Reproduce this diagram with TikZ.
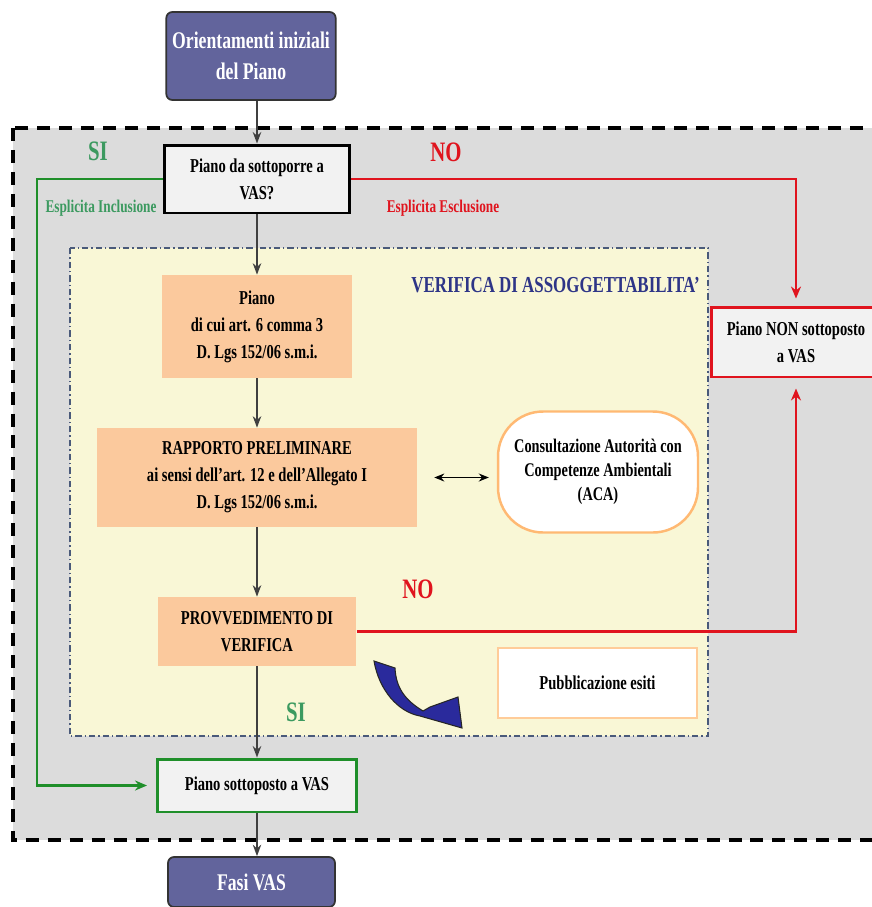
\documentclass[tikz,border=0pt]{standalone}
\usepackage{fontspec}
\setmainfont{Liberation Serif}[FakeStretch=0.74]
\usepackage{tikz}
\usetikzlibrary{arrows.meta}
\usepackage{xcolor}
\definecolor{panelgray}{HTML}{DCDCDC}
\definecolor{panelyellow}{HTML}{F9F7D6}
\definecolor{peach}{HTML}{FBC99D}
\definecolor{phasepurple}{HTML}{62649C}
\definecolor{yesgreen}{HTML}{1F8F2A}
\definecolor{yestext}{HTML}{3C9A60}
\definecolor{nored}{HTML}{E0141E}
\definecolor{titleblue}{HTML}{2E3587}
\definecolor{dashblue}{HTML}{4A5A7A}
\definecolor{arrowblue}{HTML}{2A2A9C}

\begin{document}
\begin{tikzpicture}[
    x=0.02cm,y=-0.02cm,>=Stealth,
    boxfont/.style={font=\fontsize{11.2}{15.3}\selectfont\bfseries},
    phase/.style={draw=black!80,fill=phasepurple,rounded corners=0.12cm,line width=1pt,
        text=white,align=center,font=\fontsize{13.6}{18}\selectfont\bfseries},
    stepbox/.style={fill=peach,align=center,boxfont},
    choice/.style={draw,fill=black!5,align=center,line width=1.7pt,boxfont},
    whitebox/.style={draw,fill=white,align=center,line width=1.4pt,boxfont},
    flow/.style={-{Stealth[length=2.3mm,width=1.7mm]},black!75,line width=0.8pt},
    yesline/.style={-{Stealth[length=2.4mm,width=2mm]},yesgreen,line width=1.5pt},
    noline/.style={-{Stealth[length=2.4mm,width=2mm]},nored,line width=1.5pt},
    answer/.style={font=\fontsize{16}{18}\selectfont\bfseries}
]
\clip (0,0) rectangle (872,907);
% Outer panel and the verification panel.
\filldraw[fill=panelgray,line width=2.3pt,dash pattern=on 7.4pt off 5.1pt]
    (13,128) rectangle (890,840);
\filldraw[fill=panelyellow,draw=dashblue,line width=1.1pt,
    dash pattern=on 3.6pt off 1.7pt on 0.8pt off 1.7pt]
    (70,248) rectangle (708,736);
\node[anchor=east,text=titleblue,font=\fontsize{13}{15}\selectfont\bfseries]
    (lbltitle) at (706,285) {VERIFICA DI ASSOGGETTABILITA'};

% Flow nodes.
\node[phase,minimum width=3.34cm,minimum height=1.76cm] (orient) at (251,56)
    {Orientamenti iniziali\\del Piano};
\node[choice,minimum width=3.7cm,minimum height=1.36cm] (ask) at (257,179)
    {Piano da sottoporre a\\VAS?};
\node[stepbox,minimum width=3.8cm,minimum height=2.06cm] (piano) at (257,326.5)
    {Piano\\di cui art. 6 comma 3\\D. Lgs 152/06 s.m.i.};
\node[stepbox,minimum width=6.4cm,minimum height=1.98cm] (rapp) at (257,477.5)
    {RAPPORTO PRELIMINARE\\ai sensi dell’art. 12 e dell’Allegato I\\D. Lgs 152/06 s.m.i.};
\node[whitebox,draw=orange!55,rounded corners=0.9cm,minimum width=4cm,
    minimum height=2.42cm,font=\fontsize{11}{13.6}\selectfont\bfseries] (aca) at (598,472)
    {Consultazione Autorità con\\Competenze Ambientali\\(ACA)};
\node[stepbox,minimum width=3.98cm,minimum height=1.38cm] (provv) at (257,631.5)
    {PROVVEDIMENTO DI\\VERIFICA};
\node[whitebox,draw=orange!40,minimum width=3.98cm,minimum height=1.4cm] (pub) at (597.5,683)
    {Pubblicazione esiti};
\node[choice,draw=yesgreen,minimum width=3.98cm,minimum height=1.06cm] (sivas) at (257,785.5)
    {Piano sottoposto a VAS};
\node[choice,draw=nored,minimum width=3.4cm,minimum height=1.4cm] (nonvas) at (796,342)
    {Piano NON sottoposto\\a VAS};
\node[phase,minimum width=3.34cm,minimum height=1cm] (fasi) at (251.5,882) {Fasi VAS};

% Labels on the branches.
\node[answer,text=yestext] (lblyes) at (98,151) {SI};
\node[answer,text=nored] (lblno) at (446,152) {NO};
\node[text=yestext,font=\fontsize{10.2}{12}\selectfont\bfseries] (lblincl) at (101,208)
    {Esplicita Inclusione};
\node[text=nored,font=\fontsize{10.2}{12}\selectfont\bfseries] (lblexcl) at (443,208)
    {Esplicita Esclusione};
\node[answer,text=nored] (lblnotwo) at (418,589) {NO};
\node[answer,text=yestext] (lblyestwo) at (296,712) {SI};

% Connectors.
\draw[flow] (ask.north |- orient.south) -- (ask.north);
\draw[flow] (ask.south) -- (piano.north);
\draw[flow] (piano.south) -- (rapp.north);
\draw[flow] (rapp.south) -- (provv.north);
\draw[flow] (provv.south) -- (sivas.north);
\draw[flow] (sivas.south) -- (sivas.south |- fasi.north);
\draw[{Stealth[length=2mm,width=1.6mm]}-{Stealth[length=2mm,width=1.6mm]},
    line width=0.8pt,shorten <=0.34cm,shorten >=0.16cm]
    (rapp.east) -- (rapp.east -| aca.west);
\coordinate (inclusion) at (37,179);
\draw[yesline,shorten >=0.18cm] (ask.west) -- (inclusion) |- (sivas.west);
\draw[noline,shorten >=0.14cm] (ask.east) -| (nonvas.north);
\draw[noline,shorten >=0.2cm] (provv.east) -| (nonvas.south);

% Curved arrow towards the publication.
\filldraw[fill=arrowblue,draw=black!85,line width=0.6pt]
    (374,661) .. controls (379,690) and (398,712) .. (420,716)
    -- (462,728) -- (458,697) -- (430,707) -- (423,711)
    .. controls (405,700) and (396,688) .. (395,668) -- cycle;
\end{tikzpicture}
\end{document}
